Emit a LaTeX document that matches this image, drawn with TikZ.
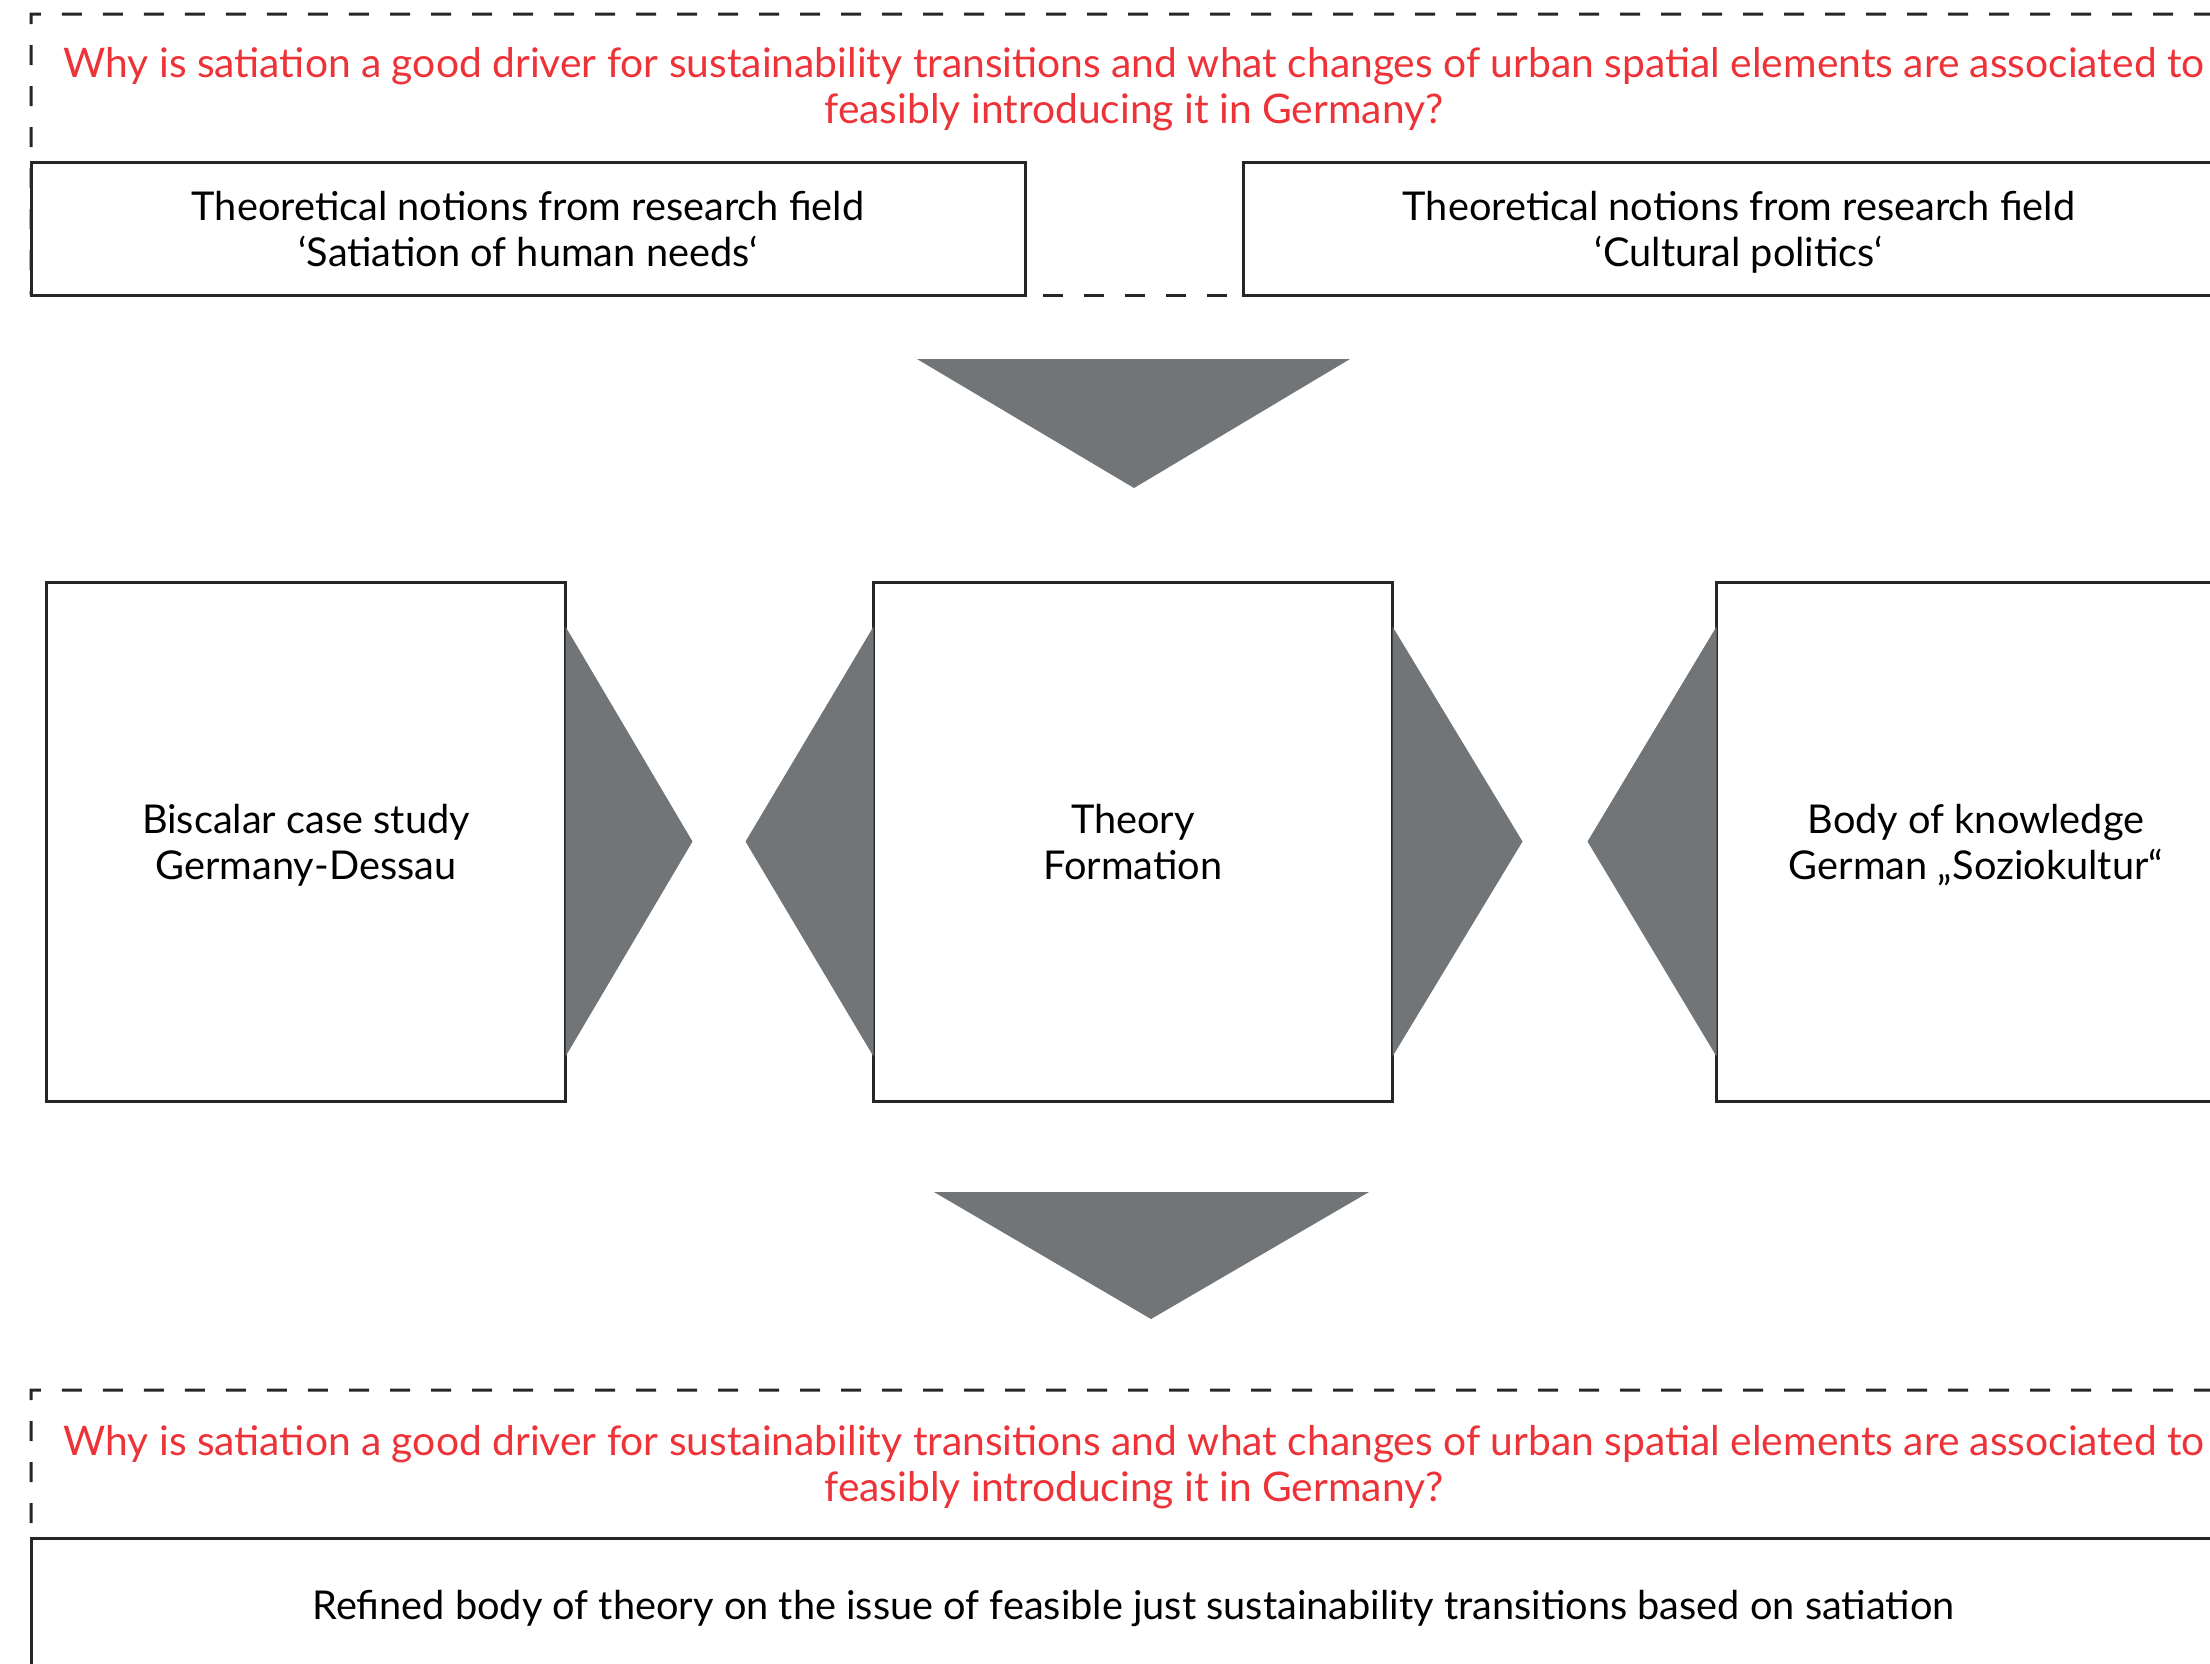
\documentclass[tikz,border=0pt]{standalone}
\usepackage{fontspec}
\setmainfont{Lato}
\usetikzlibrary{calc,backgrounds}
\definecolor{qred}{RGB}{237,50,56}
\definecolor{wedgegray}{RGB}{114,117,120}
\tikzset{
  box/.style={draw=black!85,line width=0.3mm,fill=white,align=center,inner sep=0pt,outer sep=0pt,
    font=\fontsize{11.3}{13.1}\selectfont,text depth=0pt},
  question/.style={text=qred,align=center,font=\fontsize{11.6}{13.1}\selectfont},
  frame/.style={draw=black!85,line width=0.3mm,dash pattern=on 2mm off 2.1mm},
  wedge/.style={fill=wedgegray}
}
\begin{document}
\begin{tikzpicture}[x=0.1mm,y=-0.1mm]
\path[use as bounding box,clip] (0,0) rectangle (2210,1663);
\node[question] (qtop) at (1134,89) {Why is satiation a good driver for sustainability transitions and what changes of urban spatial elements are associated to\\feasibly introducing it in Germany?};
\node[box,minimum width=99.4mm,minimum height=13.3mm] (satiation) at (528,228.5) {Theoretical notions from research field\\‘Satiation of human needs‘};
\node[box,minimum width=99.2mm,minimum height=13.3mm] (culture) at (1739,228.5) {Theoretical notions from research field\\‘Cultural politics‘};
\node[box,minimum width=51.9mm,minimum height=51.9mm] (case) at (306,841.5) {Biscalar case study\\Germany-Dessau};
\node[box,minimum width=51.9mm,minimum height=51.9mm] (theory) at (1133,841.5) {Theory\\Formation};
\node[box,minimum width=51.9mm,minimum height=51.9mm] (body) at (1976,841.5) {Body of knowledge\\German „Soziokultur“};
\node[question] (qbot) at (1134,1467) {Why is satiation a good driver for sustainability transitions and what changes of urban spatial elements are associated to\\feasibly introducing it in Germany?};
\node[box,minimum width=220.5mm,minimum height=13.3mm] (refined) at (1133.5,1604.5) {Refined body of theory on the issue of feasible just sustainability transitions based on satiation};
\begin{scope}[on background layer]
\draw[frame,dash phase=1.6mm] (satiation.south west) -- (31,14) -- (2236,14);
\draw[frame,dash phase=2.3mm] (satiation.south east) -- (culture.south west);
\draw[frame,dash phase=2.6mm] (refined.north west) -- (31,1390) -- (2236,1390);
\end{scope}
\fill[wedge] ($(theory.north)+(-216,-223)$) -- ($(theory.north)+(217,-223)$) -- ($(theory.north)+(1,-94)$) -- cycle;
\fill[wedge] ($(case.east)+(0,-215)$) -- ($(case.east)+(127,0)$) -- ($(case.east)+(0,215)$) -- cycle;
\fill[wedge] ($(theory.west)+(0,-215)$) -- ($(theory.west)+(-128,0)$) -- ($(theory.west)+(0,215)$) -- cycle;
\fill[wedge] ($(theory.east)+(0,-215)$) -- ($(theory.east)+(130,0)$) -- ($(theory.east)+(0,215)$) -- cycle;
\fill[wedge] ($(body.west)+(0,-215)$) -- ($(body.west)+(-129,0)$) -- ($(body.west)+(0,215)$) -- cycle;
\fill[wedge] ($(theory.south)+(-199,91)$) -- ($(theory.south)+(236,91)$) -- ($(theory.south)+(18,218)$) -- cycle;
\end{tikzpicture}
\end{document}
